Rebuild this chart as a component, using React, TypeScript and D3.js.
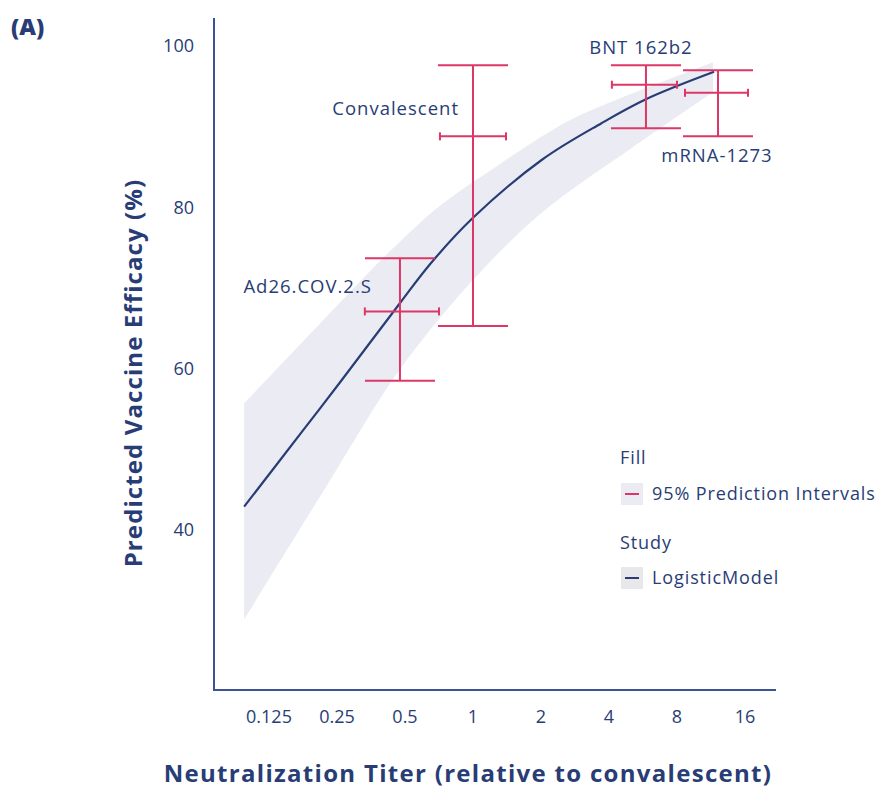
import React from "react";
import * as d3 from "d3";

// ---- data ----
const xTicks = [0.125, 0.25, 0.5, 1, 2, 4, 8, 16];
const xTickLabels = ["0.125", "0.25", "0.5", "1", "2", "4", "8", "16"];
const yTicks = [40, 60, 80, 100];

const curveTiter = [0.097, 0.173, 0.261, 0.48, 0.652, 1, 2.02, 3.69, 5.83, 11.67];
const curveEff = [42.9, 52.0, 58.5, 68.3, 73.1, 78.7, 85.9, 90.4, 93.4, 96.8];

const bandUpperTiter = [0.097, 0.212, 0.434, 0.721, 1.29, 2.45, 3.58, 11.55];
const bandUpperEff = [55.7, 65.7, 74.7, 80.3, 85.2, 90.2, 92.4, 98.0];
const bandLowerTiter = [0.097, 0.223, 0.48, 1, 1.81, 2.53, 5.01, 11.55];
const bandLowerEff = [28.9, 45.3, 60.1, 71.0, 78.2, 81.5, 87.3, 94.3];

const studies = ["Ad26.COV.2.S", "Convalescent", "BNT 162b2", "mRNA-1273"];
const studyTiter = [0.475, 1, 5.83, 12.15];
const studyTiterLow = [0.332, 0.714, 4.12, 8.68];
const studyTiterHigh = [0.707, 1.4, 8.0, 16.5];
const studyEff = [67.1, 88.8, 95.2, 94.2];
const studyEffLow = [58.5, 65.3, 89.8, 88.8];
const studyEffHigh = [73.7, 97.6, 97.6, 97.0];

const legendFill = ["95% Prediction Intervals"];
const legendStudy = ["LogisticModel"];

// ---- style ----
const NAVY = "#283d75";
const AXIS = "#3a5396";
const PINK = "#dc3767";
const BAND = "#ebecf3";
const FONT = "'Open Sans', 'Noto Sans', sans-serif";

export default function App() {
  const W = 879, H = 790;
  const x = d3.scaleLog().base(2).domain([0.25, 8]).range([337, 677]);
  const y = d3.scaleLinear().domain([40, 100]).range([530, 46]);

  const line = d3.line<[number, number]>().x(d => x(d[0])).y(d => y(d[1])).curve(d3.curveCatmullRom);
  const curvePts: [number, number][] = curveTiter.map((t, i) => [t, curveEff[i]]);
  const up: [number, number][] = bandUpperTiter.map((t, i) => [t, bandUpperEff[i]]);
  const lo: [number, number][] = bandLowerTiter.map((t, i) => [t, bandLowerEff[i]] as [number, number]).reverse();
  const bandPath = (line(up) || "") + "L" + (line(lo) || "").slice(1) + "Z";

  const capW = 35;
  const hCap = 4;
  const labelPos: { dx: number; dy: number; anchor: string }[] = [
    { dx: -28, dy: -18, anchor: "end" },
    { dx: -14, dy: -21, anchor: "end" },
    { dx: -5, dy: -31, anchor: "middle" },
    { dx: -1, dy: 69, anchor: "middle" },
  ];

  return (
    <svg width={W} height={H} style={{ display: "block", position: "absolute", left: 0, top: 0 }} fontFamily={FONT}>
      <rect width={W} height={H} fill="#fff" />
      <text x={11} y={35} fontSize={23} fontWeight={800} fill={NAVY}>(A)</text>

      <path d={bandPath} fill={BAND} />
      <path d={line(curvePts) || ""} fill="none" stroke={NAVY} strokeWidth={2.2} />

      {studies.map((s, i) => {
        const cx = x(studyTiter[i]);
        const cy = y(studyEff[i]);
        const yt = y(studyEffHigh[i]);
        const yb = y(studyEffLow[i]);
        const xl = x(studyTiterLow[i]);
        const xr = x(studyTiterHigh[i]);
        const lp = labelPos[i];
        return (
          <g key={s} stroke={PINK} strokeWidth={2}>
            <line x1={cx} x2={cx} y1={yt} y2={yb} />
            <line x1={cx - capW} x2={cx + capW} y1={yt} y2={yt} />
            <line x1={cx - capW} x2={cx + capW} y1={yb} y2={yb} />
            <line x1={xl} x2={xr} y1={cy} y2={cy} />
            <line x1={xl} x2={xl} y1={cy - hCap} y2={cy + hCap} />
            <line x1={xr} x2={xr} y1={cy - hCap} y2={cy + hCap} />
            <text x={cx + lp.dx} y={cy + lp.dy} textAnchor={lp.anchor} fontSize={18.5} letterSpacing={1} fill={NAVY} stroke="none">{s}</text>
          </g>
        );
      })}

      {/* axes */}
      <line x1={214} x2={214} y1={18} y2={690} stroke={AXIS} strokeWidth={2} />
      <line x1={213} x2={776} y1={690} y2={690} stroke={AXIS} strokeWidth={2} />
      {yTicks.map(t => (
        <text key={t} x={194} y={y(t)} dy="0.35em" textAnchor="end" fontSize={18} fill={NAVY}>{t}</text>
      ))}
      {xTicks.map((t, i) => (
        <text key={t} x={x(t)} y={717} dy="0.35em" textAnchor="middle" fontSize={18} fill={NAVY}>{xTickLabels[i]}</text>
      ))}
      <text transform="translate(134,373) rotate(-90)" textAnchor="middle" dy="0.35em" fontSize={24} fontWeight={700} letterSpacing={1.1} fill={NAVY}>
        Predicted Vaccine Efficacy (%)
      </text>
      <text x={468} y={774} dy="0.35em" textAnchor="middle" fontSize={24} fontWeight={700} letterSpacing={1.3} fill={NAVY}>
        Neutralization Titer (relative to convalescent)
      </text>

      {/* legend */}
      <text x={620} y={458} dy="0.35em" fontSize={18} letterSpacing={0.9} fill={NAVY}>Fill</text>
      {legendFill.map((l, i) => (
        <g key={l} transform={`translate(621,${483 + i * 26})`}>
          <rect width={22} height={22} fill={BAND} />
          <line x1={4} x2={18} y1={11} y2={11} stroke={PINK} strokeWidth={2} />
          <text x={31} y={11} dy="0.35em" fontSize={18} letterSpacing={0.9} fill={NAVY}>{l}</text>
        </g>
      ))}
      <text x={620} y={543} dy="0.35em" fontSize={18} letterSpacing={0.9} fill={NAVY}>Study</text>
      {legendStudy.map((l, i) => (
        <g key={l} transform={`translate(621,${567 + i * 26})`}>
          <rect width={22} height={22} fill="#e8e8ea" />
          <line x1={4} x2={18} y1={11} y2={11} stroke={NAVY} strokeWidth={2} />
          <text x={31} y={11} dy="0.35em" fontSize={18} letterSpacing={0.9} fill={NAVY}>{l}</text>
        </g>
      ))}
    </svg>
  );
}
